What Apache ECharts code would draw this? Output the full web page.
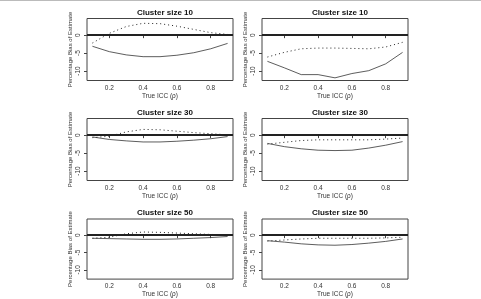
<!DOCTYPE html>
<html>
<head>
<meta charset="utf-8">
<script src="https://cdn.jsdelivr.net/npm/echarts@6/dist/echarts.min.js"></script>
<style>
  html, body { margin: 0; padding: 0; background: #fff; }
  #main { width: 481px; height: 299px; }
</style>
</head>
<body>
<div id="main"></div>
<script>
  // true ICC values on the x axis
  const iccValues = [0.1, 0.2, 0.3, 0.4, 0.5, 0.6, 0.7, 0.8, 0.9];
  const xTicks = [0.2, 0.4, 0.6, 0.8];
  const yTicks = [-10, -5, 0];
  const panelTitles = ['Cluster size 10', 'Cluster size 10', 'Cluster size 30', 'Cluster size 30', 'Cluster size 50', 'Cluster size 50'];

  // solid line per panel (row by row, left then right)
  const solid10L = [-3.1, -4.6, -5.5, -6.0, -6.0, -5.6, -4.9, -3.8, -2.3];
  const solid10R = [-7.3, -9.1, -11.0, -11.0, -11.9, -10.7, -9.9, -8.0, -4.8];
  const solid30L = [-0.5, -1.2, -1.6, -1.9, -1.9, -1.7, -1.4, -1.0, -0.4];
  const solid30R = [-2.3, -3.2, -3.8, -4.2, -4.3, -4.2, -3.6, -2.8, -1.8];
  const solid50L = [-0.9, -1.0, -1.1, -1.2, -1.2, -1.1, -0.9, -0.7, -0.4];
  const solid50R = [-1.6, -2.0, -2.5, -2.8, -2.9, -2.7, -2.3, -1.8, -1.1];

  // dotted line per panel
  const dotted10L = [-2.2, 0.5, 2.4, 3.3, 3.2, 2.5, 1.6, 0.7, 0.2];
  const dotted10R = [-6.1, -4.8, -3.8, -3.6, -3.6, -3.7, -3.8, -3.3, -2.0];
  const dotted30L = [-0.7, -0.3, 0.9, 1.6, 1.5, 1.1, 0.7, 0.4, 0.1];
  const dotted30R = [-2.5, -2.0, -1.5, -1.3, -1.3, -1.3, -1.3, -1.1, -0.8];
  const dotted50L = [-0.9, -0.6, 0.4, 0.9, 0.8, 0.6, 0.4, 0.2, 0.1];
  const dotted50R = [-1.7, -1.4, -1.1, -0.9, -0.9, -0.9, -0.9, -0.8, -0.6];

  const solidSets = [solid10L, solid10R, solid30L, solid30R, solid50L, solid50R];
  const dottedSets = [dotted10L, dotted10R, dotted30L, dotted30R, dotted50L, dotted50R];

  const font = 'Liberation Sans, Arial, sans-serif';
  const colLeft = [87, 262];
  const rowTop = [18.5, 118.5, 219];
  const boxW = 146, boxH = 62;

  const myChart = echarts.init(document.getElementById('main'), null, { renderer: 'canvas' });

  let grids = [], xAxes = [], yAxes = [], series = [], titles = [];
  for (let i = 0; i < 6; i++) {
    const r = Math.floor(i / 2), c = i % 2;
    grids.push({
      left: colLeft[c], top: rowTop[r], width: boxW, height: boxH,
      show: true, borderColor: '#444', borderWidth: 1, backgroundColor: 'transparent'
    });
    titles.push({
      text: panelTitles[i],
      left: colLeft[c] + boxW / 2, top: rowTop[r] - 15, textAlign: 'center',
      textStyle: { fontFamily: font, fontSize: 8, fontWeight: 'bold', color: '#111' }
    });
    xAxes.push({
      gridIndex: i, type: 'value', min: 0.068, max: 0.932,
      name: 'True ICC (\u03c1)', nameLocation: 'middle', nameGap: 11,
      nameTextStyle: { fontFamily: font, fontSize: 6.5, color: '#333' },
      axisLine: { show: false },
      splitLine: { show: false },
      axisTick: { show: true, length: 3, customValues: xTicks, lineStyle: { color: '#444' } },
      axisLabel: { customValues: xTicks, margin: 4, fontFamily: font, fontSize: 6.5, color: '#333',
        formatter: v => v.toFixed(1) }
    });
    yAxes.push({
      gridIndex: i, type: 'value', min: -12.64, max: 4.64,
      name: 'Percentage Bias of Estimate', nameLocation: 'middle', nameGap: 14, nameRotate: 90,
      nameTextStyle: { fontFamily: font, fontSize: 6, color: '#333' },
      axisLine: { show: false },
      splitLine: { show: false },
      axisTick: { show: true, length: 3, customValues: yTicks, lineStyle: { color: '#444' } },
      axisLabel: { customValues: yTicks, rotate: 90, margin: 5, fontFamily: font, fontSize: 6.5, color: '#333' }
    });
    series.push({
      type: 'line', xAxisIndex: i, yAxisIndex: i, symbol: 'none',
      data: iccValues.map((x, k) => [x, solidSets[i][k]]),
      lineStyle: { color: '#333', width: 0.8 },
      markLine: {
        silent: true, symbol: 'none', label: { show: false },
        lineStyle: { color: '#222', width: 2, type: 'solid' },
        data: [{ yAxis: 0 }]
      }
    });
    series.push({
      type: 'line', xAxisIndex: i, yAxisIndex: i, symbol: 'none',
      data: iccValues.map((x, k) => [x, dottedSets[i][k]]),
      lineStyle: { color: '#222', width: 1, type: [1, 3] }
    });
  }

  let option = {
    animation: false,
    backgroundColor: '#fff',
    title: titles,
    grid: grids,
    xAxis: xAxes,
    yAxis: yAxes,
    series: series,
    graphic: [
      { type: 'line', shape: { x1: 0, y1: 0.5, x2: 481, y2: 0.5 }, style: { stroke: '#bbb', lineWidth: 1 } }
    ]
  };
  myChart.setOption(option);
</script>
</body>
</html>
